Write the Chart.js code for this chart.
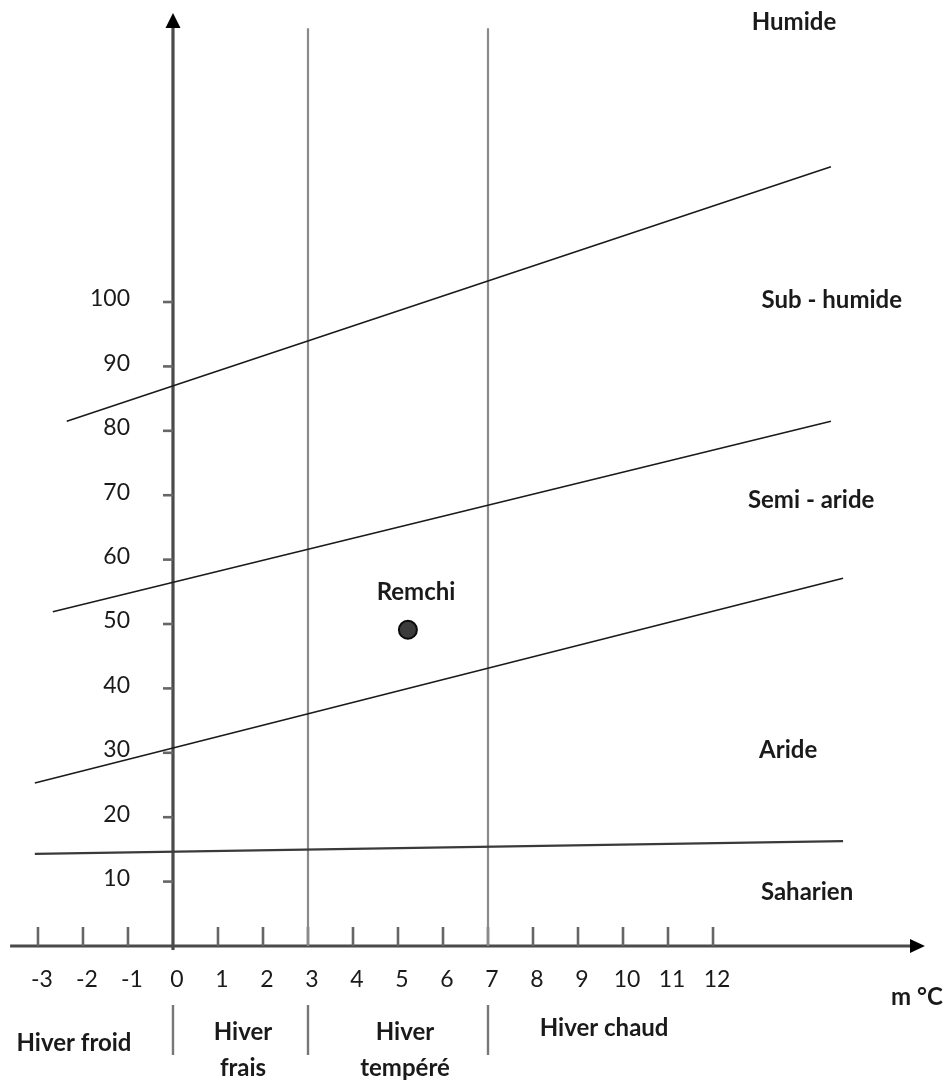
<!DOCTYPE html>
<html>
<head>
<meta charset="utf-8">
<script src="https://cdn.jsdelivr.net/npm/chart.js@4/dist/chart.umd.min.js"></script>
<style>
  html, body { margin: 0; padding: 0; background: #fff; }
  #wrap { width: 949px; height: 1082px; position: relative; }
  canvas { display: block; }
</style>
</head>
<body>
<div id="wrap"><canvas id="c" width="949" height="1082"></canvas></div>
<script>
// ---------- DATA ----------
const xTickValues = [-3, -2, -1, 0, 1, 2, 3, 4, 5, 6, 7, 8, 9, 10, 11, 12];
const yTickValues = [10, 20, 30, 40, 50, 60, 70, 80, 90, 100];

// Boundary lines of the Emberger climagram (m °C, Q2)
const limitHumide     = [[-2.36, 81.5], [14.62, 121.0]];
const limitSubHumide  = [[-2.67, 51.9], [14.62, 81.5]];
const limitSemiAride  = [[-3.07, 25.3], [14.89, 57.1]];
const limitAride      = [[-3.07, 14.3], [14.89, 16.3]];

// Winter-type limits (m °C)
const winterLimits     = [0, 3, 7];
const winterFullLines  = [3, 7];

// Station
const stationNames = ['Remchi'];
const stationM     = [5.22];
const stationQ2    = [49.1];

// Text labels
const zoneNames   = ['Humide', 'Sub - humide', 'Semi - aride', 'Aride', 'Saharien'];
const winterNames = [['Hiver froid'], ['Hiver', 'frais'], ['Hiver', 'tempéré'], ['Hiver chaud']];
const xUnitLabel  = 'm °C';

// ---------- LAYOUT (positions in data units) ----------
const X_MIN = -3.844, X_MAX = 17.244, Y_MIN = -21.12, Y_MAX = 146.9;
const xAxisStart = -3.62, xAxisEnd = 16.71, yAxisTop = 144.9, fullLineTop = 142.5;
const zonePos   = [[13.8, 143.5], [14.64, 100.3], [14.18, 69.25], [13.67, 30.43], [14.09, 8.39]];
const winterPos = [[-2.2, -15.06], [1.556, -13.35], [5.156, -13.35], [9.58, -12.73]];
const winterLineGap = -5.59;
const sepTop = -9.16, sepBottom = -16.93;
const stationLabelPos = [[5.4, 54.97]];
const unitPos = [16.53, -7.92];

const FONT = 'Lato, "Open Sans", sans-serif';
const toXY = (a) => a.map(p => ({ x: p[0], y: p[1] }));

const datasets = [];
[limitHumide, limitSubHumide, limitSemiAride].forEach(l => datasets.push({
  type: 'line', data: toXY(l), borderColor: '#1a1a1a', borderWidth: 1.6,
  pointRadius: 0, fill: false, tension: 0
}));
datasets.push({
  type: 'line', data: toXY(limitAride), borderColor: '#3a3a3a', borderWidth: 2.2,
  pointRadius: 0, fill: false, tension: 0
});
winterFullLines.forEach(v => datasets.push({
  type: 'line', data: [{ x: v, y: 0 }, { x: v, y: fullLineTop }],
  borderColor: '#8a8a8a', borderWidth: 2.2, pointRadius: 0, fill: false
}));
datasets.push({
  type: 'scatter',
  data: stationM.map((m, i) => ({ x: m, y: stationQ2[i] })),
  pointRadius: 9, pointHoverRadius: 9,
  backgroundColor: '#3b3b3b', borderColor: '#0a0a0a', borderWidth: 2
});

const drawPlugin = {
  id: 'climagram',
  beforeDatasetsDraw(chart) {
    const ctx = chart.ctx, xs = chart.scales.x, ys = chart.scales.y;
    const X = v => xs.getPixelForValue(v), Y = v => ys.getPixelForValue(v);
    ctx.save();
    ctx.lineCap = 'butt';
    // x axis
    ctx.strokeStyle = '#4a4a4a'; ctx.lineWidth = 3;
    ctx.beginPath(); ctx.moveTo(X(xAxisStart), Y(0)); ctx.lineTo(X(xAxisEnd) - 12, Y(0)); ctx.stroke();
    ctx.fillStyle = '#000';
    ctx.beginPath();
    ctx.moveTo(X(xAxisEnd), Y(0)); ctx.lineTo(X(xAxisEnd) - 15, Y(0) - 7); ctx.lineTo(X(xAxisEnd) - 15, Y(0) + 7);
    ctx.closePath(); ctx.fill();
    // y axis
    ctx.strokeStyle = '#4a4a4a'; ctx.lineWidth = 3.2;
    ctx.beginPath(); ctx.moveTo(X(0), Y(0) + 4); ctx.lineTo(X(0), Y(yAxisTop) + 12); ctx.stroke();
    ctx.beginPath();
    ctx.moveTo(X(0), Y(yAxisTop)); ctx.lineTo(X(0) - 7.5, Y(yAxisTop) + 15); ctx.lineTo(X(0) + 7.5, Y(yAxisTop) + 15);
    ctx.closePath(); ctx.fill();
    // x ticks
    ctx.strokeStyle = '#666'; ctx.lineWidth = 2.6;
    xTickValues.forEach(v => {
      if (v === 0) return;
      ctx.beginPath(); ctx.moveTo(X(v), Y(0)); ctx.lineTo(X(v), Y(0) - 19); ctx.stroke();
    });
    // y ticks
    yTickValues.forEach(v => {
      ctx.beginPath(); ctx.moveTo(X(0), Y(v)); ctx.lineTo(X(0) - 10, Y(v)); ctx.stroke();
    });
    // winter separators below axis
    ctx.strokeStyle = '#777'; ctx.lineWidth = 2.4;
    winterLimits.forEach(v => {
      ctx.beginPath(); ctx.moveTo(X(v), Y(sepTop)); ctx.lineTo(X(v), Y(sepBottom)); ctx.stroke();
    });
    // tick labels
    ctx.fillStyle = '#1a1a1a';
    ctx.font = '23px ' + FONT;
    ctx.textAlign = 'center'; ctx.textBaseline = 'middle';
    xTickValues.forEach(v => ctx.fillText(String(v), X(v) + 4, Y(0) + 34));
    ctx.textAlign = 'right';
    yTickValues.forEach(v => ctx.fillText(String(v), X(0) - 43, Y(v) - 3));
    // zone names
    ctx.font = 'bold 24px ' + FONT;
    ctx.textAlign = 'center';
    zoneNames.forEach((t, i) => ctx.fillText(t, X(zonePos[i][0]), Y(zonePos[i][1])));
    // winter names
    winterNames.forEach((lines, i) => {
      lines.forEach((t, j) => ctx.fillText(t, X(winterPos[i][0]), Y(winterPos[i][1] + j * winterLineGap)));
    });
    // unit
    ctx.fillText(xUnitLabel, X(unitPos[0]), Y(unitPos[1]));
    // station names
    stationNames.forEach((t, i) => ctx.fillText(t, X(stationLabelPos[i][0]), Y(stationLabelPos[i][1])));
    ctx.restore();
  }
};

new Chart(document.getElementById('c'), {
  type: 'scatter',
  data: { datasets },
  options: {
    responsive: false,
    animation: false,
    devicePixelRatio: 1,
    layout: { padding: 0, autoPadding: false },
    plugins: { legend: { display: false }, tooltip: { enabled: false } },
    scales: {
      x: { type: 'linear', min: X_MIN, max: X_MAX, display: false },
      y: { type: 'linear', min: Y_MIN, max: Y_MAX, display: false }
    },
    clip: false
  },
  plugins: [drawPlugin]
});
</script>
</body>
</html>
